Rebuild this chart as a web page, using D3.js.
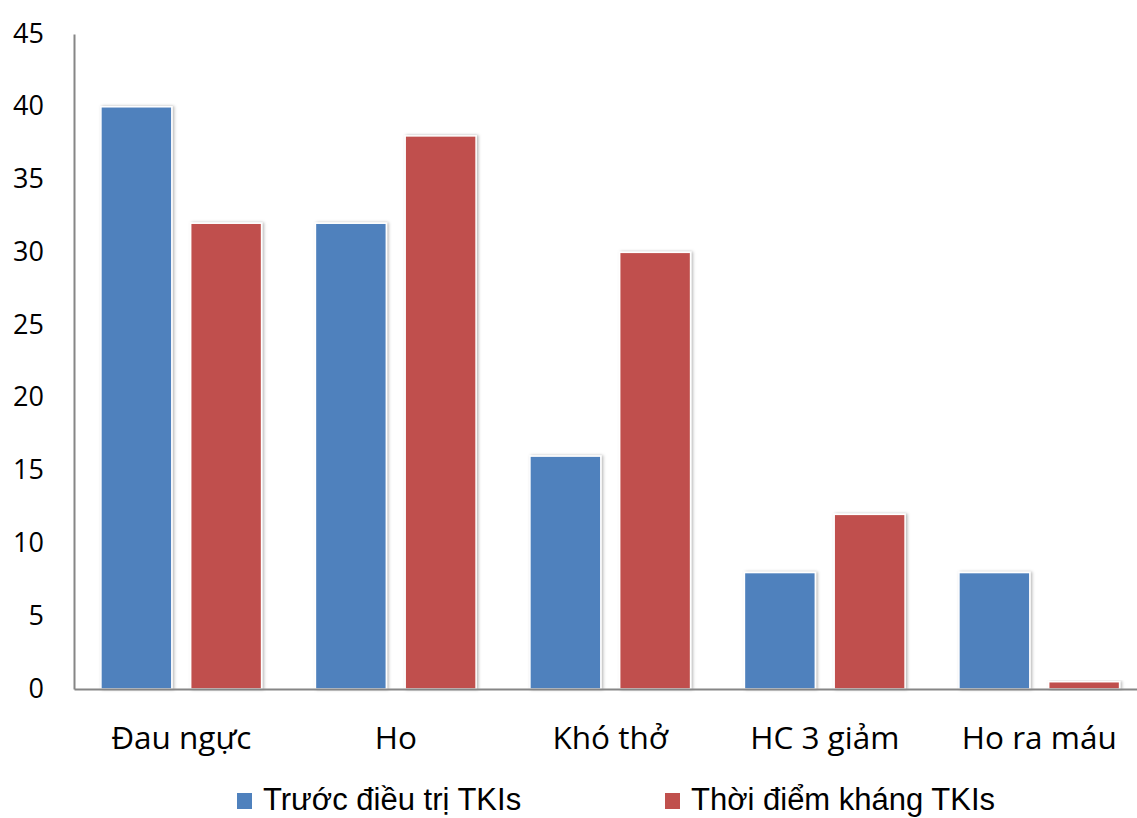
<!DOCTYPE html>
<html>
<head>
<meta charset="utf-8">
<script src="https://cdn.jsdelivr.net/npm/d3@7"></script>
<style>
  html, body { margin: 0; padding: 0; background: #fff; }
  svg { display: block; }
</style>
</head>
<body>
<svg id="chart" width="1137" height="818"></svg>
<script>
// Symptom frequencies before TKI treatment and at the time of TKI resistance
const categories = ["Đau ngực", "Ho", "Khó thở", "HC 3 giảm", "Ho ra máu"];
const seriesNames = ["Trước điều trị TKIs", "Thời điểm kháng TKIs"];
const beforeValues = [40, 32, 16, 8, 8];
const resistValues = [32, 38, 30, 12, 0.5];
const yTicks = [0, 5, 10, 15, 20, 25, 30, 35, 40, 45];
const colors = ["#4F81BD", "#C0504D"];

const svg = d3.select("#chart");
const plot = { left: 74, top: 34, bottom: 689, band: 214.5 };

const x = d3.scaleBand()
  .domain(categories)
  .range([plot.left, plot.left + plot.band * categories.length])
  .paddingInner(0).paddingOuter(0);

const inner = d3.scaleBand()
  .domain(seriesNames)
  .range([0, x.bandwidth()])
  .paddingInner(0.21)
  .paddingOuter(0.3);

const y = d3.scaleLinear().domain([0, 45]).range([plot.bottom, plot.top]);

// soft shadow around the bars
const defs = svg.append("defs");
const f = defs.append("filter").attr("id", "shadow")
  .attr("x", "-20%").attr("y", "-20%").attr("width", "140%").attr("height", "140%");
f.append("feDropShadow").attr("dx", 1.5).attr("dy", 0).attr("stdDeviation", 1.6)
  .attr("flood-color", "#000").attr("flood-opacity", 0.3);

const data = categories.map((c, i) => ({
  cat: c,
  vals: [
    { s: seriesNames[0], v: beforeValues[i], c: colors[0] },
    { s: seriesNames[1], v: resistValues[i], c: colors[1] }
  ]
}));

const groups = svg.append("g").selectAll("g").data(data).join("g")
  .attr("transform", d => `translate(${x(d.cat)},0)`);

groups.selectAll("rect").data(d => d.vals).join("rect")
  .attr("x", d => inner(d.s))
  .attr("width", inner.bandwidth())
  .attr("y", d => y(d.v))
  .attr("height", d => y(0) - y(d.v))
  .attr("fill", d => d.c)
  .attr("stroke", "#fff")
  .attr("stroke-width", 1.5)
  .attr("filter", "url(#shadow)");

// y axis
const yAxis = d3.axisLeft(y).tickValues(yTicks).tickSize(0).tickPadding(30);
const gy = svg.append("g").attr("transform", `translate(${plot.left},0)`).call(yAxis);
gy.select(".domain").attr("stroke", "#868686").attr("stroke-width", 2);
gy.selectAll("text")
  .attr("font-family", "'Open Sans', sans-serif")
  .attr("font-size", 27)
  .attr("dy", "0.3em")
  .attr("fill", "#000");

// x axis
const xAxis = d3.axisBottom(x).tickSize(0);
const gx = svg.append("g").attr("transform", `translate(0,${plot.bottom})`).call(xAxis);
gx.select(".domain").attr("stroke", "#868686").attr("stroke-width", 2);
gx.selectAll("text")
  .attr("font-family", "'Open Sans', sans-serif")
  .attr("font-size", 31.5)
  .attr("y", 60)
  .attr("dy", 0)
  .attr("fill", "#000");

// legend
const legendItems = [
  { name: seriesNames[0], color: colors[0], x: 237 },
  { name: seriesNames[1], color: colors[1], x: 665 }
];
const lg = svg.append("g").selectAll("g").data(legendItems).join("g")
  .attr("transform", d => `translate(${d.x},793)`);
lg.append("rect").attr("width", 15).attr("height", 16).attr("fill", d => d.color);
lg.append("text")
  .attr("x", 26).attr("y", 17)
  .attr("font-family", "'Liberation Sans', Arial, sans-serif")
  .attr("font-size", 31)
  .attr("fill", "#000")
  .text(d => d.name);
</script>
</body>
</html>
